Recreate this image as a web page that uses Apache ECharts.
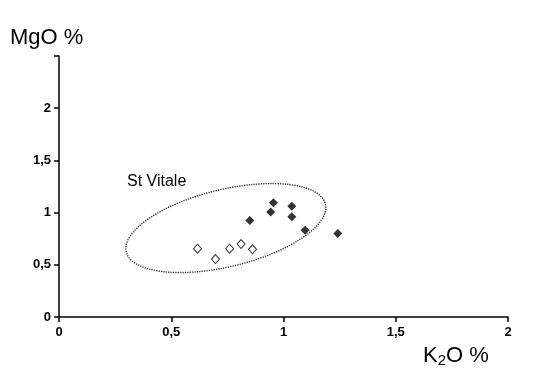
<!DOCTYPE html>
<html>
<head>
<meta charset="utf-8">
<script src="https://cdn.jsdelivr.net/npm/echarts@6/dist/echarts.min.js"></script>
<style>
html,body{margin:0;padding:0;background:#fff;}
#chart{width:536px;height:391px;}
</style>
</head>
<body>
<div id="chart"></div>
<script>
// Data
var filledK = [0.85, 0.955, 0.943, 1.037, 1.037, 1.096, 1.242];
var filledMgO = [0.925, 1.094, 1.005, 1.062, 0.960, 0.830, 0.801];
var openK = [0.617, 0.697, 0.760, 0.811, 0.862];
var openMgO = [0.654, 0.555, 0.654, 0.699, 0.648];
var xTicks = [0, 0.5, 1, 1.5, 2];
var yTicks = [0, 0.5, 1, 1.5, 2];
// St Vitale field (annotation): centre in data units
var fieldCentre = [0.743, 0.852];
var fieldLabel = 'St Vitale';

function pairs(xs, ys){ return xs.map(function(x,i){ return [x, ys[i]]; }); }
function fmt(v){ return String(v).replace('.', ','); }

var chart = echarts.init(document.getElementById('chart'), null, {renderer:'canvas'});
var labelFont = {color:'#000', fontWeight:'bold', fontSize:13, fontFamily:'Liberation Sans, Arial, sans-serif'};

chart.setOption({
  backgroundColor:'#fff',
  animation:false,
  grid:{left:59, right:28, top:56, bottom:74},
  xAxis:{
    type:'value', min:0, max:2, interval:0.5,
    axisLine:{show:true, onZero:false, lineStyle:{color:'#000', width:1.5}},
    axisTick:{show:true, length:5, lineStyle:{color:'#000', width:1.5}},
    axisLabel:Object.assign({margin:9, showMaxLabel:true, formatter:function(v){ return xTicks.indexOf(v)>=0 ? fmt(v) : ''; }}, labelFont),
    splitLine:{show:false}
  },
  yAxis:{
    type:'value', min:0, max:2.5, interval:0.5,
    axisLine:{show:true, onZero:false, lineStyle:{color:'#000', width:1.5}},
    axisTick:{show:true, length:5, lineStyle:{color:'#000', width:1.5}},
    axisLabel:Object.assign({margin:8, formatter:function(v){ return yTicks.indexOf(v)>=0 ? fmt(v) : ''; }}, labelFont),
    splitLine:{show:false}
  },
  graphic:[
    {type:'text', left:10, top:27, style:{text:'MgO %', fill:'#000', font:'22px "Liberation Sans", Arial, sans-serif'}},
    {type:'text', left:423, top:345, style:{
      text:'{a|K}{s|2}{a|O %}', fill:'#000',
      rich:{
        a:{fontSize:22, fontFamily:'Liberation Sans, Arial, sans-serif', color:'#000'},
        s:{fontSize:15, fontFamily:'Liberation Sans, Arial, sans-serif', color:'#000', padding:[10,0,0,0]}
      }
    }},
    {type:'text', left:127, top:174, style:{text:fieldLabel, fill:'#000', font:'16px "Liberation Sans", Arial, sans-serif'}}
  ],
  series:[
    {
      type:'custom',
      silent:true,
      data:[fieldCentre],
      renderItem:function(params, api){
        var c = api.coord([api.value(0), api.value(1)]);
        return {
          type:'ellipse',
          x:c[0], y:c[1],
          rotation:13.5*Math.PI/180,
          shape:{cx:0, cy:0, rx:102.4, ry:38.6},
          style:{fill:null, stroke:'#222', lineWidth:1.4, lineDash:[1.2,1.2]}
        };
      },
      z:1
    },
    {
      type:'scatter', symbol:'diamond', symbolSize:[9,9],
      itemStyle:{color:'#000'},
      data:pairs(filledK, filledMgO), z:3
    },
    {
      type:'scatter', symbol:'diamond', symbolSize:[8,9],
      itemStyle:{color:'#fff', borderColor:'#000', borderWidth:1},
      data:pairs(openK, openMgO), z:3
    }
  ]
});
</script>
</body>
</html>
